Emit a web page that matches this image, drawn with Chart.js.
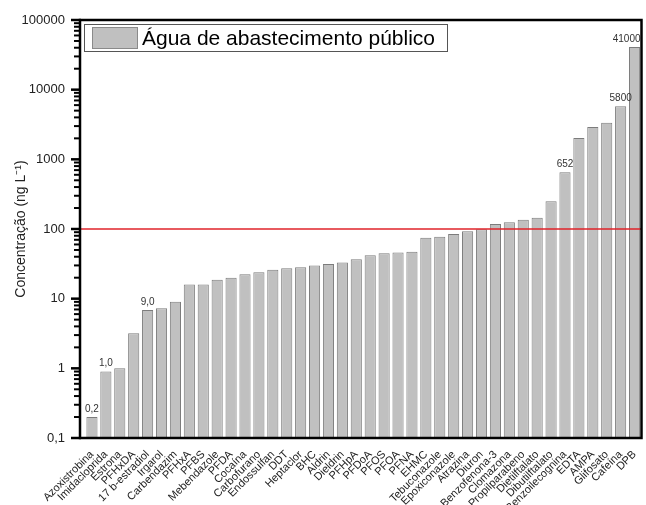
<!DOCTYPE html>
<html lang="pt">
<head>
<meta charset="UTF-8">
<title>Água de abastecimento público</title>
<script src="https://cdn.jsdelivr.net/npm/chart.js@4"></script>
<style>
  body { margin: 0; background: #fff; }
  #chart { display: block; }
</style>
</head>
<body>
<canvas id="chart" width="646" height="505"></canvas>
<script>
// compostos e concentrações (ng/L)
const compostos = ['Azoxistrobina', 'Imidacloprida', 'Estrona', 'PFHxDA', '17 b-estradiol', 'Irgarol',
  'Carbendazim', 'PFHxA', 'PFBS', 'Mebendazole', 'PFDA', 'Cocaína', 'Carbofurano', 'Endossulfan',
  'DDT', 'Heptaclor', 'BHC', 'Aldrin', 'Dieldrin', 'PFHpA', 'PFDoA', 'PFOS', 'PFOA', 'PFNA', 'EHMC',
  'Tebuconazole', 'Epoxiconazole', 'Atrazina', 'Diuron', 'Benzofenona-3', 'Clomazona',
  'Propilparabeno', 'Dietilftalato', 'Dibutilftalato', 'Benzoilecognina', 'EDTA', 'AMPA',
  'Glifosato', 'Cafeína', 'DPB'];

const concentracoes = [0.2, 0.9, 1.0, 3.2, 6.9, 7.3, 9.0, 16, 16, 18.7, 20, 22.4, 24, 26,
  27.3, 28.2, 30, 31.4, 33, 36.7, 42, 45, 46, 47, 75, 77.6, 85, 93, 99, 118, 125,
  136, 145, 250, 652, 2020, 2900, 3350, 5800, 41000];

// rótulos escritos sobre algumas barras
const rotulosBarras = ['0,2', '1,0', '', '', '9,0', '', '', '', '', '', '', '', '', '',
  '', '', '', '', '', '', '', '', '', '', '', '', '', '', '', '', '',
  '', '', '', '652', '', '', '', '5800', '41000'];

const limite = 100;
const serie = 'Água de abastecimento público';
const fonte = '"Liberation Sans", Arial, sans-serif';
const recuo = 5; // folga entre o eixo y e a primeira barra

function potencia10(v) {
  const e = Math.log10(v);
  return Math.abs(e - Math.round(e)) < 1e-9;
}

const extras = {
  id: 'extras',
  afterDatasetsDraw(chart) {
    const { ctx, chartArea: a, scales: { y } } = chart;
    const esq = a.left - recuo;
    ctx.save();
    // linha de 100 ng/L
    const yl = y.getPixelForValue(limite);
    ctx.strokeStyle = '#e0232a';
    ctx.lineWidth = 1.5;
    ctx.beginPath();
    ctx.moveTo(esq, yl);
    ctx.lineTo(a.right, yl);
    ctx.stroke();

    // valores em cima das barras
    ctx.font = '10px ' + fonte;
    ctx.fillStyle = '#333';
    ctx.textAlign = 'center';
    ctx.textBaseline = 'bottom';
    const meta = chart.getDatasetMeta(0);
    rotulosBarras.forEach((t, i) => {
      if (!t) return;
      const bar = meta.data[i];
      const w = ctx.measureText(t).width;
      const cx = Math.min(bar.x, a.right - w / 2 - 1);
      ctx.fillText(t, cx, bar.y - 3);
    });
    ctx.restore();
  },
  afterDraw(chart) {
    const { ctx, chartArea: a, scales: { y } } = chart;
    const esq = a.left - recuo;
    ctx.save();
    // marcas do eixo y: 1..9 x 10^n, maiores nas potências de 10
    ctx.strokeStyle = '#000';
    ctx.lineCap = 'butt';
    const e0 = Math.round(Math.log10(y.min)), e1 = Math.round(Math.log10(y.max));
    for (let e = e0; e <= e1; e++) {
      for (let m = 1; m <= 9; m++) {
        if (e === e1 && m > 1) break;
        const p = y.getPixelForValue(m * Math.pow(10, e));
        const maior = m === 1;
        ctx.lineWidth = maior ? 2.5 : 2;
        ctx.beginPath();
        ctx.moveTo(esq - (maior ? 9 : 6), p);
        ctx.lineTo(esq + 1, p);
        ctx.stroke();
      }
    }

    // moldura
    ctx.lineWidth = 2.5;
    ctx.strokeRect(esq, a.top, a.right - esq, a.bottom - a.top);

    // legenda
    const lx = esq + 4, ly = a.top + 4;
    ctx.fillStyle = '#fff';
    ctx.fillRect(lx, ly, 363, 27);
    ctx.lineWidth = 1;
    ctx.strokeStyle = '#555';
    ctx.strokeRect(lx + 0.5, ly + 0.5, 363, 27);
    ctx.fillStyle = '#c0c0c0';
    ctx.fillRect(lx + 8, ly + 3, 45, 21);
    ctx.strokeStyle = '#8a8a8a';
    ctx.strokeRect(lx + 8.5, ly + 3.5, 45, 21);
    ctx.fillStyle = '#000';
    ctx.font = '21px ' + fonte;
    ctx.textAlign = 'left';
    ctx.textBaseline = 'middle';
    ctx.fillText(serie, lx + 58, ly + 15);
    ctx.restore();
  }
};

new Chart(document.getElementById('chart'), {
  type: 'bar',
  data: {
    labels: compostos,
    datasets: [{
      label: serie,
      data: concentracoes,
      backgroundColor: '#c0c0c0',
      borderColor: '#7c7c7c',
      borderWidth: 1,
      barPercentage: 0.8,
      categoryPercentage: 1.0
    }]
  },
  options: {
    responsive: false,
    animation: false,
    layout: { padding: { top: 20, right: 4.5, left: 0, bottom: 0 } },
    plugins: {
      legend: { display: false },
      tooltip: { enabled: false }
    },
    scales: {
      x: {
        grid: { display: false },
        border: { display: false },
        ticks: {
          autoSkip: false,
          minRotation: 45,
          maxRotation: 45,
          padding: 2,
          color: '#222',
          font: { family: fonte, size: 11 }
        },
        afterFit(s) { s.height = 67; }
      },
      y: {
        type: 'logarithmic',
        min: 0.1,
        max: 100000,
        grid: { display: true, drawOnChartArea: false, drawTicks: true, tickLength: 8, color: 'transparent' },
        border: { display: false },
        ticks: {
          autoSkip: false,
          padding: 7 + recuo,
          color: '#222',
          font: { family: fonte, size: 13 },
          callback(v) {
            if (!potencia10(v)) return '';
            return v < 1 ? String(v).replace('.', ',') : String(Math.round(v));
          }
        },
        title: {
          display: true,
          text: 'Concentração (ng L⁻¹)',
          color: '#222',
          font: { family: fonte, size: 14 },
          padding: { top: 13, bottom: 0 }
        },
        afterFit(s) { s.width = 80 + recuo; }
      }
    }
  },
  plugins: [extras]
});
</script>
</body>
</html>
